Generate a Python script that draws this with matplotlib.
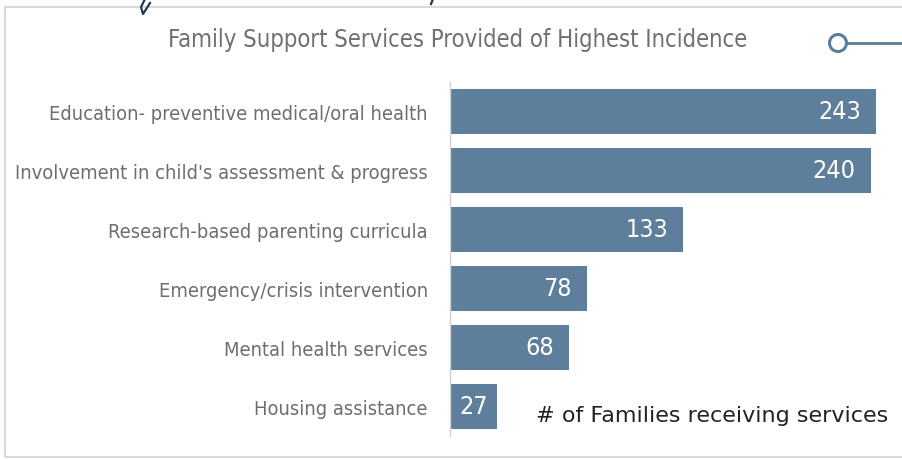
import matplotlib
matplotlib.use("Agg")
import matplotlib.pyplot as plt
from matplotlib.patches import Rectangle, Ellipse
from matplotlib.lines import Line2D

categories = [
    "Education- preventive medical/oral health",
    "Involvement in child's assessment & progress",
    "Research-based parenting curricula",
    "Emergency/crisis intervention",
    "Mental health services",
    "Housing assistance",
]
values = [243, 240, 133, 78, 68, 27]
title = "Family Support Services Provided of Highest Incidence"
caption = "# of Families receiving services"

W, H = 902, 460
fig = plt.figure(figsize=(W / 100, H / 100), dpi=100)
fig.patch.set_facecolor("white")

def px(x, y):
    return x / W, 1 - y / H

cond = dict(family="DejaVu Sans", fontstretch="condensed")

# outer frame
fig.patches.append(Rectangle(px(5, 458), (W + 10) / W, 450 / H, transform=fig.transFigure,
                             fill=False, edgecolor="#d9d9d9", linewidth=1.5))

# handwriting fragments at top
fig.lines.append(Line2D([145 / W, 141 / W, 143 / W, 150 / W], [1.0, 1 - 8 / H, 1 - 15 / H, 1 - 4 / H],
                        transform=fig.transFigure, color="#1f3a57", linewidth=1.6))
fig.lines.append(Line2D([433 / W, 431 / W], [1.0, 1 - 5 / H],
                        transform=fig.transFigure, color="#1f3a57", linewidth=1.6))

# connector at top right
fig.lines.append(Line2D([847 / W, 1.0], [1 - 44 / H, 1 - 44 / H], transform=fig.transFigure,
                        color="#5b7f9a", linewidth=2))
fig.patches.append(Ellipse(px(838, 44), 17 / W, 17 / H, transform=fig.transFigure,
                           fill=False, edgecolor="#5b7f9a", linewidth=2.2))

ax = fig.add_axes([450 / W, (H - 437) / H, 430 / W, 354 / H])
scale = 426 / 243
ax.set_xlim(0, 430 / scale)
ypos = list(range(len(categories)))
ax.barh(ypos, values, height=0.76, color="#5e7f9b", edgecolor="none")
ax.set_ylim(len(categories) - 0.5, -0.5)
ax.set_yticks(ypos)
ax.set_yticklabels(categories, fontsize=14.4, color="#6e6e6e", **cond)
ax.tick_params(axis="y", length=0, pad=16)
ax.set_xticks([])
for s in ["top", "right", "bottom"]:
    ax.spines[s].set_visible(False)
ax.spines["left"].set_color("#d0d0d0")
ax.spines["left"].set_linewidth(1)

fig.canvas.draw()
renderer = fig.canvas.get_renderer()
for y, v in zip(ypos, values):
    t = ax.text(v, y, str(v), ha="right", va="center", color="white", fontsize=18, **cond)
    tw = t.get_window_extent(renderer).width
    bw = v * scale
    off = min(15, (bw - tw) / 2)
    t.set_x(v - off / scale)

fig.text(458 / W, 1 - 40 / H, title, ha="center", va="center", fontsize=17.1, color="#707070", **cond)
fig.text(888 / W, 1 - 416 / H, caption, ha="right", va="center", fontsize=16, color="#222222",
         family="DejaVu Sans")

fig.savefig("out.png", dpi=100, facecolor="white")
